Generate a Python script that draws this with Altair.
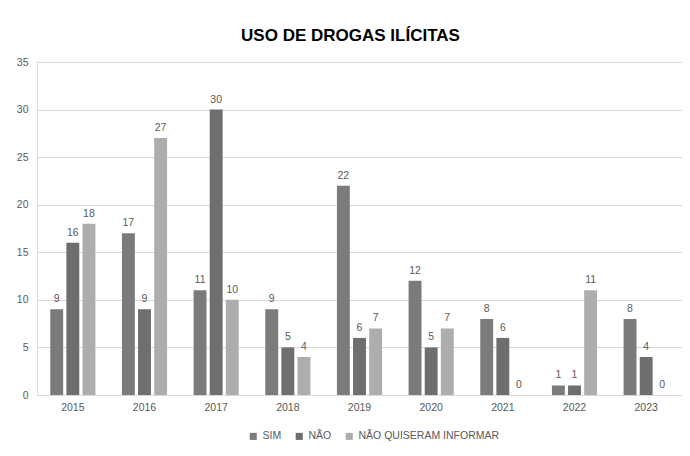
import altair as alt
import pandas as pd

years = ["2015", "2016", "2017", "2018", "2019", "2020", "2021", "2022", "2023"]
series = ["SIM", "NÃO", "NÃO QUISERAM INFORMAR"]
sim = [9, 17, 11, 9, 22, 12, 8, 1, 8]
nao = [16, 9, 30, 5, 6, 5, 6, 1, 4]
nao_inf = [18, 27, 10, 4, 7, 7, 0, 11, 0]
colors = ["#7b7b7b", "#6e6e6e", "#adadad"]

rows = []
for s, vals in zip(series, [sim, nao, nao_inf]):
    for y, v in zip(years, vals):
        rows.append({"ano": y, "serie": s, "valor": v})
df = pd.DataFrame(rows)

FONT = "Liberation Sans Narrow, Liberation Sans, sans-serif"

base = alt.Chart(df).encode(
    x=alt.X("ano:N", sort=years, title=None,
            scale=alt.Scale(paddingInner=0.37, paddingOuter=0.185),
            axis=alt.Axis(labelAngle=0, ticks=False, domain=False, labelPadding=7,
                          labelFontSize=10.5, labelColor="#595959", labelFont=FONT)),
    xOffset=alt.XOffset("serie:N", sort=series,
                        scale=alt.Scale(paddingInner=0.2, paddingOuter=0)),
    y=alt.Y("valor:Q", title=None,
            scale=alt.Scale(domain=[0, 35], nice=False),
            axis=alt.Axis(values=[0, 5, 10, 15, 20, 25, 30, 35], ticks=False, domain=False,
                          labelPadding=9, labelFontSize=10.5, labelColor="#595959",
                          labelFont=FONT, gridColor="#d9d9d9", gridWidth=1)),
)

bars = base.mark_bar().encode(
    color=alt.Color("serie:N", sort=series,
                    scale=alt.Scale(domain=series, range=colors),
                    legend=alt.Legend(title=None, orient="none", direction="horizontal",
                                      legendX=211, legendY=369,
                                      symbolType="square", symbolSize=50,
                                      symbolStrokeWidth=0, columnPadding=12,
                                      labelFontSize=10.5, labelColor="#595959",
                                      labelFont=FONT, labelOffset=4)),
)

labels = base.mark_text(baseline="bottom", dy=-5, fontSize=10.5, color="#595959",
                        font=FONT).encode(text="valor:Q")

chart = alt.layer(bars, labels).properties(
    width=645,
    height=333,
    autosize="none",
    padding={"left": 29, "top": 54, "right": 0, "bottom": 50},
    title=alt.TitleParams("USO DE DROGAS ILÍCITAS", fontSize=17, fontWeight="bold",
                          font=FONT, color="#000000", anchor="middle", dx=-9,
                          offset=12),
).configure_view(stroke=None).configure(background="white")

chart.save("out.html", embed_options={"renderer": "svg", "actions": False})
